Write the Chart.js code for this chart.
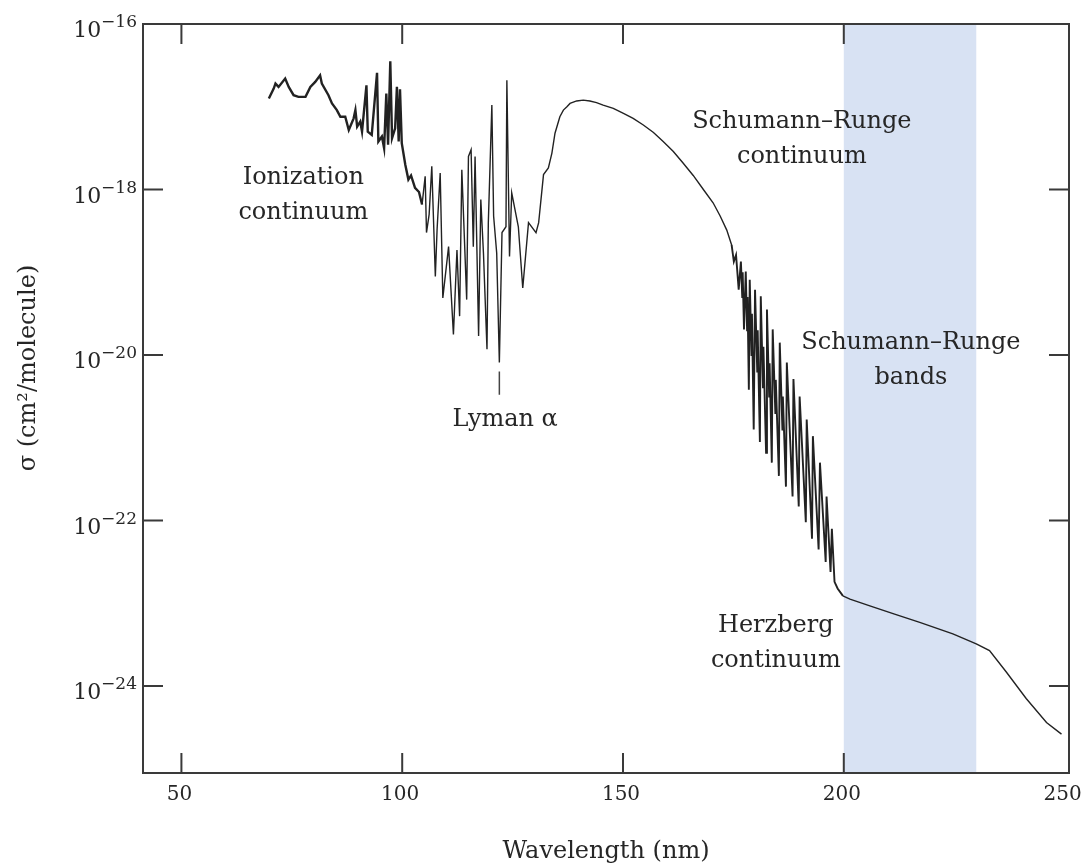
<!DOCTYPE html>
<html>
<head>
<meta charset="utf-8">
<script src="https://cdn.jsdelivr.net/npm/chart.js@4.4.1/dist/chart.umd.min.js"></script>
<style>
  html, body { margin: 0; padding: 0; background: #fff; }
  #wrap { width: 1081px; height: 866px; }
</style>
</head>
<body>
<div id="wrap"><canvas id="chart"></canvas></div>
<script>
// O2 absorption cross section, wavelength in nm, sigma as log10(cm^2/molecule)
const ionizationNm = [69.8, 70.9, 71.3, 72.0, 73.5, 74.3, 75.4, 76.5, 78.1, 79.2, 80.3, 81.4, 81.8, 83.3, 84.1, 85.2, 86.0, 87.1, 87.9, 89.0,
  89.4, 89.8, 90.5, 90.9, 91.9, 92.2, 93.1, 94.3, 94.6, 95.4, 95.9, 96.4, 96.8, 97.3, 97.7, 98.4, 98.8, 99.2, 99.5, 99.9];
const ionizationLog = [-16.90, -16.78, -16.72, -16.76, -16.66, -16.76, -16.86, -16.88, -16.88, -16.76, -16.70, -16.62, -16.72, -16.86, -16.96, -17.04, -17.12, -17.12, -17.28, -17.14,
  -17.04, -17.24, -17.18, -17.30, -16.74, -17.30, -17.34, -16.59, -17.42, -17.36, -17.50, -16.84, -17.46, -16.45, -17.38, -17.26, -16.76, -17.42, -16.79, -17.44];

const lymanNm = [100.7, 101.4, 102.0, 102.9, 103.8, 104.5, 105.2, 105.5, 106.1, 106.7, 107.5, 107.9, 108.6, 109.2, 110.5, 111.6, 112.4, 113.0, 113.5, 114.6,
  115.0, 115.6, 116.1, 116.5, 117.3, 117.8, 118.4, 119.2, 119.5, 120.3, 120.7, 121.4, 122.0, 122.6, 123.5, 123.7, 124.3, 124.8, 126.3, 127.3,
  128.6, 130.3, 130.9, 132.0, 133.1, 133.9, 134.6, 135.7];
const lymanLog = [-17.70, -17.88, -17.83, -17.98, -18.03, -18.18, -17.84, -18.52, -18.30, -17.72, -19.05, -18.48, -17.80, -19.31, -18.69, -19.75, -18.73, -19.53, -17.76, -19.33,
  -17.60, -17.52, -18.69, -17.60, -19.77, -18.12, -18.77, -19.93, -18.40, -16.98, -18.32, -18.77, -20.09, -18.52, -18.45, -16.68, -18.81, -18.04, -18.45, -19.19,
  -18.40, -18.52, -18.40, -17.82, -17.74, -17.56, -17.32, -17.12];

const srContinuumNm = [136.5, 137.3, 138.0, 139.5, 141.0, 142.5, 144.0, 145.5, 147.8, 150.1, 152.3, 154.6, 156.9, 159.1, 161.4, 163.6, 165.9, 168.2, 170.4, 172.0, 173.5, 174.6];
const srContinuumLog = [-17.04, -17.00, -16.96, -16.93, -16.92, -16.93, -16.95, -16.98, -17.02, -17.08, -17.14, -17.22, -17.31, -17.42, -17.54, -17.68, -17.83, -18.00, -18.16, -18.32, -18.49, -18.67];

const srBandsNm = [175.1, 175.6, 176.2, 176.7, 177.0, 177.1, 177.4, 177.8, 178.1, 178.2, 178.5, 178.7, 179.1, 179.2, 179.6, 179.9, 180.4, 180.5, 181.0, 181.2,
  181.7, 181.8, 182.4, 182.6, 183.1, 183.2, 183.7, 183.9, 184.5, 184.6, 185.3, 185.5, 186.1, 186.2, 186.9, 187.1, 188.4, 188.6, 189.8, 190.0,
  191.4, 191.6, 192.8, 193.0, 194.3, 194.6, 195.9, 196.1, 197.0, 197.3, 197.9, 198.6, 199.8];
const srBandsLog = [-18.87, -18.79, -19.21, -18.87, -19.30, -19.00, -19.69, -18.99, -19.70, -19.30, -20.42, -19.09, -20.00, -19.50, -20.90, -19.21, -20.20, -19.70, -21.05, -19.29,
  -20.40, -19.90, -21.18, -19.45, -20.50, -20.10, -21.30, -19.69, -20.70, -20.30, -21.46, -19.85, -20.90, -20.50, -21.59, -20.09, -21.71, -20.29, -21.83, -20.50,
  -22.02, -20.78, -22.22, -20.98, -22.35, -21.30, -22.50, -21.71, -22.62, -22.10, -22.74, -22.82, -22.91];

const herzbergNm = [201.4, 205.9, 211.5, 217.2, 224.7, 230.0, 233.0, 236.8, 241.3, 245.9, 249.3];
const herzbergLog = [-22.95, -23.03, -23.13, -23.23, -23.37, -23.49, -23.57, -23.83, -24.15, -24.44, -24.58];

// short marker under the Lyman alpha line
const lymanMarkNm = [122.0, 122.0];
const lymanMarkLog = [-20.20, -20.48];

const shadedBand = [200, 230];
const xTicks = [50, 100, 150, 200, 250];
const xTickMarks = [50, 100, 150, 200];
const yExponents = [-16, -18, -20, -22, -24];

const labels = [
  { lines: ['Ionization', 'continuum'], nm: 77.6, log: -17.86 },
  { lines: ['Schumann\u2013Runge', 'continuum'], nm: 190.5, log: -17.18 },
  { lines: ['Schumann\u2013Runge', 'bands'], nm: 215.2, log: -19.85 },
  { lines: ['Herzberg', 'continuum'], nm: 184.6, log: -23.27 },
  { lines: ['Lyman \u03b1'], nm: 123.3, log: -20.78 }
];

const FONT = '"DejaVu Serif", "Liberation Serif", serif';
const INK = '#262626';

const nmAll = [].concat(ionizationNm, lymanNm, srContinuumNm, srBandsNm, herzbergNm);
const logAll = [].concat(ionizationLog, lymanLog, srContinuumLog, srBandsLog, herzbergLog);
const spectrum = nmAll.map((nm, i) => ({ x: nm, y: Math.pow(10, logAll[i]) }));
const lymanMark = lymanMarkNm.map((nm, i) => ({ x: nm, y: Math.pow(10, lymanMarkLog[i]) }));

// shading, frame, inside ticks, y labels and annotations
const decorations = {
  id: 'decorations',
  beforeDatasetsDraw(chart) {
    const { ctx, chartArea: a, scales: { x } } = chart;
    const x0 = x.getPixelForValue(shadedBand[0]);
    const x1 = x.getPixelForValue(shadedBand[1]);
    ctx.save();
    ctx.fillStyle = '#d8e2f3';
    ctx.fillRect(x0, a.top, x1 - x0, a.bottom - a.top);
    ctx.restore();
  },
  afterDraw(chart) {
    const { ctx, chartArea: a, scales: { x, y } } = chart;
    ctx.save();
    ctx.strokeStyle = '#3a3a3a';
    ctx.lineWidth = 2;
    ctx.strokeRect(a.left, a.top, a.right - a.left, a.bottom - a.top);

    ctx.beginPath();
    xTickMarks.forEach(v => {
      const px = x.getPixelForValue(v);
      ctx.moveTo(px, a.bottom); ctx.lineTo(px, a.bottom - 20);
      ctx.moveTo(px, a.top); ctx.lineTo(px, a.top + 20);
    });
    yExponents.forEach(e => {
      const py = y.getPixelForValue(Math.pow(10, e));
      if (py <= a.top + 1) return;
      ctx.moveTo(a.left, py); ctx.lineTo(a.left + 20, py);
      ctx.moveTo(a.right, py); ctx.lineTo(a.right - 20, py);
    });
    ctx.stroke();

    // 10^n tick labels
    ctx.fillStyle = INK;
    ctx.textAlign = 'right';
    ctx.textBaseline = 'alphabetic';
    yExponents.forEach(e => {
      const py = y.getPixelForValue(Math.pow(10, e));
      const sup = '\u2212' + Math.abs(e);
      ctx.font = '17px ' + FONT;
      ctx.fillText(sup, a.left - 6, py + 3);
      const w = ctx.measureText(sup).width;
      ctx.font = '22px ' + FONT;
      ctx.fillText('10', a.left - 6 - w, py + 13);
    });

    // y axis title
    ctx.save();
    ctx.translate(29, 368);
    ctx.rotate(-Math.PI / 2);
    ctx.textAlign = 'center';
    ctx.textBaseline = 'middle';
    ctx.font = '24px ' + FONT;
    ctx.fillText('\u03c3 (cm\u00b2/molecule)', 0, 0);
    ctx.restore();

    // region labels
    ctx.textAlign = 'center';
    ctx.textBaseline = 'middle';
    ctx.font = '24px ' + FONT;
    labels.forEach(l => {
      const px = x.getPixelForValue(l.nm);
      const py = y.getPixelForValue(Math.pow(10, l.log));
      l.lines.forEach((t, i) => ctx.fillText(t, px, py + i * 35));
    });
    ctx.restore();
  }
};

new Chart(document.getElementById('chart'), {
  type: 'line',
  data: {
    datasets: [
      {
        data: spectrum,
        borderColor: '#222',
        borderWidth: 1.4,
        pointRadius: 0,
        tension: 0,
        segment: {
          borderWidth: c => {
            const v = c.p0.parsed.x;
            if (v < 104) return 2.4;
            if (v > 174.5 && v < 199.5) return 1.9;
            return 1.4;
          }
        }
      },
      {
        data: lymanMark,
        borderColor: '#444',
        borderWidth: 1.5,
        pointRadius: 0
      }
    ]
  },
  options: {
    responsive: true,
    maintainAspectRatio: false,
    animation: false,
    devicePixelRatio: 1,
    layout: { padding: { left: 0, top: 24, right: 12, bottom: 0 } },
    plugins: { legend: { display: false }, tooltip: { enabled: false } },
    scales: {
      x: {
        type: 'linear',
        min: 41.3,
        max: 251,
        afterFit: s => {
          s.height = 93;
          s.paddingLeft = 0;
          s.paddingRight = 0;
        },
        afterBuildTicks: s => { s.ticks = xTicks.map(v => ({ value: v })); },
        grid: { display: false, drawTicks: false },
        border: { display: false },
        ticks: {
          includeBounds: false,
          padding: 10,
          labelOffset: -2,
          color: INK,
          font: { family: FONT, size: 20 }
        },
        title: {
          display: true,
          text: 'Wavelength (nm)',
          color: INK,
          font: { family: FONT, size: 24 },
          padding: { top: 0, bottom: 0 }
        }
      },
      y: {
        type: 'logarithmic',
        min: Math.pow(10, -25.05),
        max: 1e-16,
        afterFit: s => { s.width = 143; },
        grid: { display: false, drawTicks: false },
        border: { display: false },
        ticks: { display: false }
      }
    }
  },
  plugins: [decorations]
});
</script>
</body>
</html>
